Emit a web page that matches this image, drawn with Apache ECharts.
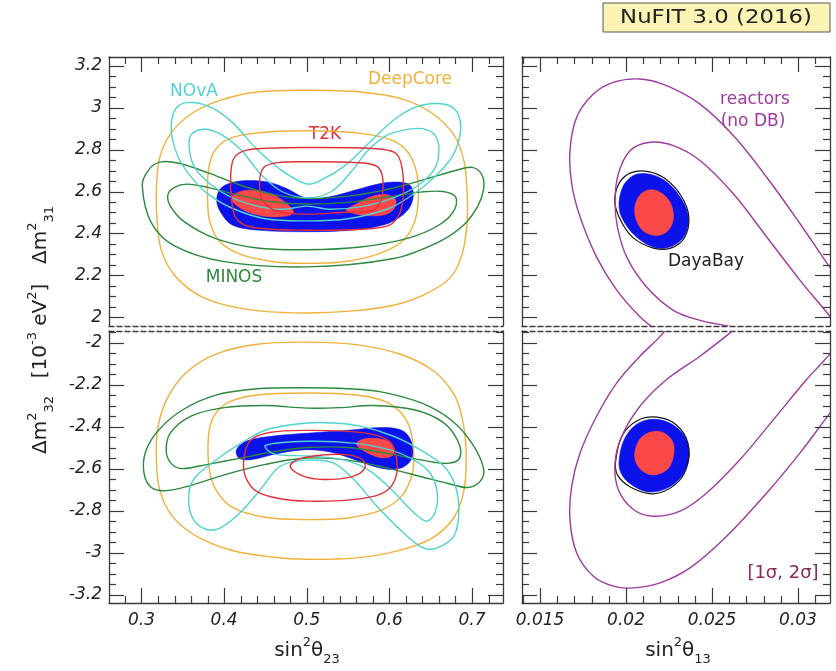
<!DOCTYPE html>
<html>
<head>
<meta charset="utf-8">
<script src="https://cdn.jsdelivr.net/npm/echarts@6/dist/echarts.min.js"></script>
<style>html,body{margin:0;background:#fff}#c{width:836px;height:671px}</style>
</head>
<body>
<div id="c"></div>
<script>
// ---- tick labels ----
const ticks23 = [0.3, 0.4, 0.5, 0.6, 0.7];
const ticks13 = [0.015, 0.02, 0.025, 0.03];
const ticks31 = [2, 2.2, 2.4, 2.6, 2.8, 3, 3.2];
const ticks32 = [-3.2, -3, -2.8, -2.6, -2.4, -2.2, -2];

// ---- sin^2(theta23) vs dm^2_31 (normal ordering) ----
const deepCore31_2s = [[0.500,3.083],[0.440,3.075],[0.395,3.035],[0.360,2.970],[0.335,2.875],[0.322,2.760],[0.318,2.600],[0.319,2.450],[0.324,2.320],[0.338,2.210],[0.363,2.120],[0.395,2.065],[0.443,2.030],[0.500,2.020],[0.556,2.030],[0.605,2.057],[0.645,2.113],[0.674,2.190],[0.688,2.300],[0.694,2.450],[0.694,2.600],[0.690,2.750],[0.678,2.870],[0.653,2.970],[0.617,3.040],[0.565,3.075]];
const deepCore31_1s = [[0.500,2.890],[0.440,2.880],[0.405,2.850],[0.388,2.790],[0.381,2.700],[0.380,2.560],[0.383,2.450],[0.395,2.360],[0.420,2.300],[0.460,2.265],[0.500,2.257],[0.545,2.265],[0.585,2.300],[0.615,2.360],[0.630,2.450],[0.635,2.560],[0.633,2.690],[0.622,2.790],[0.600,2.850],[0.560,2.880]];
const t2k31_2s = [[0.500,2.810],[0.450,2.806],[0.425,2.795],[0.412,2.760],[0.408,2.680],[0.409,2.560],[0.415,2.470],[0.435,2.428],[0.500,2.415],[0.565,2.420],[0.600,2.440],[0.613,2.500],[0.617,2.600],[0.615,2.720],[0.607,2.785],[0.580,2.805]];
const t2k31_1s = [[0.500,2.742],[0.465,2.738],[0.448,2.715],[0.443,2.650],[0.446,2.560],[0.465,2.505],[0.500,2.492],[0.540,2.500],[0.580,2.510],[0.590,2.560],[0.592,2.660],[0.585,2.720],[0.560,2.738]];
const nova31_2s = [[0.500,2.636],[0.470,2.700],[0.440,2.800],[0.410,2.930],[0.385,3.000],[0.362,3.025],[0.345,3.010],[0.337,2.950],[0.337,2.860],[0.345,2.760],[0.360,2.670],[0.380,2.590],[0.410,2.520],[0.450,2.470],[0.500,2.460],[0.550,2.470],[0.600,2.520],[0.630,2.590],[0.655,2.670],[0.675,2.760],[0.685,2.860],[0.685,2.950],[0.675,3.005],[0.655,3.020],[0.630,3.000],[0.605,2.940],[0.575,2.830],[0.545,2.720],[0.520,2.660]];
const nova31_1s = [[0.500,2.570],[0.470,2.600],[0.445,2.680],[0.420,2.800],[0.395,2.875],[0.375,2.897],[0.360,2.870],[0.358,2.800],[0.365,2.710],[0.385,2.630],[0.410,2.570],[0.440,2.530],[0.470,2.515],[0.500,2.530],[0.530,2.515],[0.570,2.530],[0.605,2.570],[0.635,2.630],[0.655,2.710],[0.660,2.800],[0.655,2.870],[0.640,2.900],[0.620,2.895],[0.598,2.870],[0.575,2.800],[0.555,2.700],[0.530,2.600]];
const minos31_2s = [[0.301,2.625],[0.308,2.700],[0.322,2.740],[0.345,2.735],[0.380,2.690],[0.420,2.630],[0.460,2.585],[0.500,2.567],[0.550,2.578],[0.600,2.612],[0.645,2.660],[0.680,2.700],[0.700,2.715],[0.712,2.680],[0.714,2.610],[0.707,2.530],[0.690,2.440],[0.660,2.360],[0.605,2.280],[0.500,2.240],[0.400,2.265],[0.340,2.340],[0.312,2.450]];
const minos31_1s = [[0.332,2.585],[0.340,2.620],[0.355,2.635],[0.380,2.620],[0.420,2.580],[0.460,2.550],[0.500,2.540],[0.550,2.548],[0.600,2.575],[0.640,2.598],[0.665,2.600],[0.680,2.575],[0.679,2.515],[0.662,2.445],[0.625,2.380],[0.565,2.335],[0.500,2.322],[0.440,2.330],[0.390,2.375],[0.352,2.455],[0.335,2.530]];
const global31_3s = [[0.391,2.560],[0.396,2.615],[0.410,2.643],[0.432,2.652],[0.455,2.643],[0.475,2.615],[0.500,2.568],[0.528,2.575],[0.560,2.608],[0.588,2.637],[0.610,2.645],[0.625,2.630],[0.629,2.580],[0.622,2.510],[0.600,2.450],[0.560,2.418],[0.500,2.408],[0.440,2.416],[0.410,2.440],[0.396,2.500]];
const global31_1sA = [[0.409,2.573],[0.418,2.598],[0.432,2.606],[0.452,2.595],[0.470,2.560],[0.484,2.505],[0.478,2.485],[0.455,2.480],[0.430,2.500],[0.413,2.540]];
const global31_1sB = [[0.548,2.512],[0.560,2.540],[0.578,2.575],[0.595,2.585],[0.607,2.565],[0.606,2.520],[0.595,2.490],[0.575,2.485],[0.557,2.495]];

// ---- sin^2(theta23) vs dm^2_32 (inverted ordering) ----
const deepCore32_2s = [[0.500,-1.998],[0.440,-2.008],[0.390,-2.055],[0.355,-2.140],[0.332,-2.260],[0.320,-2.400],[0.318,-2.550],[0.322,-2.700],[0.338,-2.830],[0.368,-2.925],[0.410,-2.990],[0.460,-3.022],[0.500,-3.032],[0.560,-3.025],[0.610,-2.992],[0.650,-2.935],[0.677,-2.840],[0.690,-2.710],[0.693,-2.550],[0.690,-2.400],[0.680,-2.260],[0.655,-2.140],[0.615,-2.058],[0.560,-2.010]];
const deepCore32_1s = [[0.500,-2.240],[0.440,-2.250],[0.405,-2.285],[0.387,-2.355],[0.381,-2.450],[0.382,-2.600],[0.390,-2.700],[0.410,-2.785],[0.450,-2.832],[0.500,-2.843],[0.550,-2.835],[0.590,-2.798],[0.615,-2.730],[0.628,-2.620],[0.629,-2.500],[0.622,-2.380],[0.600,-2.290],[0.560,-2.250]];
const t2k32_2s = [[0.500,-2.418],[0.455,-2.428],[0.432,-2.465],[0.424,-2.550],[0.426,-2.640],[0.440,-2.710],[0.470,-2.745],[0.500,-2.755],[0.550,-2.750],[0.590,-2.720],[0.606,-2.660],[0.609,-2.560],[0.600,-2.470],[0.570,-2.430]];
const t2k32_1s = [[0.480,-2.590],[0.490,-2.555],[0.520,-2.535],[0.550,-2.535],[0.568,-2.560],[0.570,-2.600],[0.555,-2.638],[0.520,-2.652],[0.495,-2.635]];
const nova32_2s = [[0.500,-2.383],[0.452,-2.414],[0.421,-2.478],[0.391,-2.557],[0.363,-2.652],[0.357,-2.748],[0.363,-2.843],[0.379,-2.890],[0.395,-2.883],[0.419,-2.811],[0.444,-2.700],[0.468,-2.589],[0.500,-2.560],[0.532,-2.573],[0.557,-2.652],[0.585,-2.779],[0.617,-2.906],[0.641,-2.978],[0.658,-2.978],[0.678,-2.922],[0.684,-2.811],[0.680,-2.684],[0.666,-2.589],[0.637,-2.510],[0.605,-2.446],[0.565,-2.398],[0.532,-2.383]];
const nova32_1s = [[0.450,-2.490],[0.500,-2.470],[0.560,-2.480],[0.600,-2.510],[0.629,-2.557],[0.649,-2.620],[0.658,-2.716],[0.655,-2.811],[0.645,-2.851],[0.627,-2.800],[0.600,-2.690],[0.572,-2.600],[0.540,-2.555],[0.500,-2.540],[0.460,-2.530]];
const minos32_2s = [[0.500,-2.215],[0.440,-2.220],[0.390,-2.250],[0.350,-2.320],[0.320,-2.420],[0.305,-2.520],[0.303,-2.620],[0.312,-2.690],[0.330,-2.705],[0.360,-2.680],[0.400,-2.630],[0.450,-2.580],[0.500,-2.550],[0.550,-2.560],[0.600,-2.600],[0.640,-2.640],[0.670,-2.670],[0.695,-2.690],[0.710,-2.660],[0.714,-2.600],[0.700,-2.480],[0.675,-2.370],[0.640,-2.290],[0.590,-2.235],[0.550,-2.220]];
const minos32_1s = [[0.500,-2.312],[0.450,-2.300],[0.400,-2.310],[0.360,-2.350],[0.335,-2.430],[0.330,-2.520],[0.337,-2.580],[0.350,-2.600],[0.380,-2.580],[0.420,-2.550],[0.460,-2.520],[0.500,-2.500],[0.550,-2.500],[0.600,-2.530],[0.640,-2.560],[0.670,-2.575],[0.685,-2.550],[0.683,-2.470],[0.665,-2.380],[0.630,-2.320],[0.580,-2.300],[0.540,-2.310]];
const global32_3s = [[0.415,-2.510],[0.428,-2.468],[0.460,-2.445],[0.500,-2.432],[0.550,-2.418],[0.595,-2.405],[0.618,-2.425],[0.628,-2.490],[0.626,-2.560],[0.612,-2.600],[0.590,-2.598],[0.560,-2.560],[0.530,-2.522],[0.500,-2.510],[0.465,-2.528],[0.432,-2.558],[0.418,-2.550]];
const global32_1s = [[0.560,-2.485],[0.566,-2.463],[0.582,-2.456],[0.598,-2.470],[0.606,-2.510],[0.603,-2.540],[0.590,-2.548],[0.572,-2.522]];

// ---- sin^2(theta13) panels ----
const reactors31_2s = [[0.0322,2.200],[0.03157,2.271],[0.03012,2.446],[0.02818,2.668],[0.02624,2.867],[0.02430,3.017],[0.02236,3.105],[0.02081,3.137],[0.01926,3.121],[0.01810,3.065],[0.01713,2.954],[0.01674,2.795],[0.01684,2.637],[0.01733,2.478],[0.01829,2.287],[0.01946,2.129],[0.02081,2.002],[0.02198,1.922],[0.0225,1.880]];
const reactors31_1s = [[0.0322,1.970],[0.03157,2.033],[0.03012,2.176],[0.02818,2.383],[0.02624,2.589],[0.02430,2.748],[0.02275,2.819],[0.02140,2.835],[0.02023,2.795],[0.01955,2.684],[0.01936,2.557],[0.01950,2.430],[0.02004,2.287],[0.02120,2.144],[0.02275,2.033],[0.02430,1.985],[0.02605,1.955],[0.0270,1.930]];
const dayaBay31 = [[0.01935,2.550],[0.0196,2.640],[0.0203,2.690],[0.0213,2.695],[0.0223,2.660],[0.0232,2.580],[0.02365,2.480],[0.0234,2.380],[0.0226,2.330],[0.0216,2.330],[0.0204,2.380],[0.0197,2.460]];
const global31_13_2s = [[0.0196,2.520],[0.0198,2.620],[0.0204,2.675],[0.0212,2.685],[0.0222,2.655],[0.0231,2.580],[0.02362,2.480],[0.0234,2.390],[0.0227,2.340],[0.0218,2.330],[0.0208,2.370],[0.0200,2.440]];
const global31_13_1s = [[0.0205,2.500],[0.0207,2.570],[0.0212,2.605],[0.0219,2.600],[0.02255,2.550],[0.02275,2.470],[0.0224,2.410],[0.0217,2.390],[0.0209,2.420]];

const reactors32_2s = [[0.0225,-1.900],[0.02217,-1.954],[0.02081,-2.065],[0.01946,-2.192],[0.01829,-2.351],[0.01733,-2.525],[0.01684,-2.684],[0.01674,-2.843],[0.01713,-3.002],[0.01810,-3.113],[0.01926,-3.160],[0.02043,-3.168],[0.02198,-3.144],[0.02372,-3.073],[0.02585,-2.922],[0.02818,-2.716],[0.03012,-2.525],[0.03157,-2.367],[0.0322,-2.300]];
const reactors32_1s = [[0.0265,-1.920],[0.02605,-1.954],[0.02430,-2.065],[0.02236,-2.176],[0.02081,-2.303],[0.01975,-2.446],[0.01936,-2.573],[0.01955,-2.700],[0.02043,-2.795],[0.02159,-2.827],[0.02314,-2.803],[0.02469,-2.716],[0.02663,-2.557],[0.02857,-2.367],[0.03050,-2.176],[0.03157,-2.081],[0.0322,-2.020]];
const dayaBay32 = [[0.0194,-2.560],[0.0198,-2.440],[0.0207,-2.370],[0.0218,-2.355],[0.0229,-2.390],[0.0236,-2.480],[0.0235,-2.600],[0.0228,-2.680],[0.0216,-2.720],[0.0203,-2.690],[0.0195,-2.630]];
const global32_13_2s = [[0.0196,-2.560],[0.0199,-2.460],[0.0206,-2.390],[0.0216,-2.365],[0.0227,-2.390],[0.0235,-2.460],[0.02365,-2.560],[0.0231,-2.650],[0.0222,-2.700],[0.0212,-2.710],[0.0202,-2.670],[0.0197,-2.620]];
const global32_13_1s = [[0.0205,-2.540],[0.0208,-2.460],[0.0215,-2.425],[0.0222,-2.430],[0.02275,-2.480],[0.0227,-2.560],[0.0223,-2.610],[0.0215,-2.630],[0.0208,-2.600]];

// ---- styling ----
const FRAME = '#3a3a3a';
const C_DEEPCORE = '#f2b03a', C_NOVA = '#4fd2d2', C_T2K = '#df3038', C_MINOS = '#2b8a3c';
const C_BLUE = '#0c12ea', C_RED = '#fb4848', C_REACT = '#a03aa0', C_DB = '#151515';
const FONT = '"DejaVu Sans", "Liberation Sans", sans-serif';

function minorTicks(lo, hi, step, majors) {
  const out = [];
  const n0 = Math.ceil(lo / step - 1e-9), n1 = Math.floor(hi / step + 1e-9);
  for (let n = n0; n <= n1; n++) {
    const v = +(n * step).toFixed(6);
    if (!majors.some(m => Math.abs(m - v) < step / 10)) out.push(v);
  }
  return out;
}

const panels = [
  { grid: {left: 109, top: 57, width: 394, height: 269}, x: [0.2607, 0.7375], y: [1.958, 3.242], xMaj: ticks23, xStep: 0.02, yMaj: ticks31, upper: true, left: true },
  { grid: {left: 109, top: 331, width: 394, height: 272}, x: [0.2607, 0.7375], y: [-3.24, -1.945], xMaj: ticks23, xStep: 0.02, yMaj: ticks32, upper: false, left: true },
  { grid: {left: 522, top: 57, width: 308, height: 269}, x: [0.01395, 0.03186], y: [1.958, 3.242], xMaj: ticks13, xStep: 0.001, yMaj: ticks31, upper: true, left: false },
  { grid: {left: 522, top: 331, width: 308, height: 272}, x: [0.01395, 0.03186], y: [-3.24, -1.945], xMaj: ticks13, xStep: 0.001, yMaj: ticks32, upper: false, left: false }
];

const grids = [], xAxes = [], yAxes = [], axisRef = [];
const labelFont = { fontFamily: FONT, fontStyle: 'italic', fontSize: 17, color: '#222',
  formatter: v => String(+(+v).toFixed(4)) };

function axis(gi, pos, range, lineType, labels) {
  return {
    type: 'value', gridIndex: gi, position: pos, min: range[0], max: range[1],
    axisLine: { show: true, onZero: false,
      lineStyle: { color: FRAME, width: 1.3, type: lineType === 'dashed' ? [5, 3] : 'solid' } },
    axisTick: { show: false },
    axisLabel: Object.assign({ show: !!labels, customValues: labels || [], margin: pos === 'left' ? 7 : 9 }, labelFont),
    splitLine: { show: false }
  };
}

panels.forEach((p, gi) => {
  grids.push(Object.assign({ containLabel: false }, p.grid));
  const ref = { x: xAxes.length, y: yAxes.length };
  xAxes.push(axis(gi, 'bottom', p.x, p.upper ? 'dashed' : 'solid', p.upper ? null : p.xMaj));
  xAxes.push(axis(gi, 'top', p.x, p.upper ? 'solid' : 'dashed', null));
  yAxes.push(axis(gi, 'left', p.y, 'solid', p.left ? p.yMaj : null));
  yAxes.push(axis(gi, 'right', p.y, 'solid', null));
  axisRef.push(ref);
});

// Inward tick marks along the solid frame edges, placed through each panel's scales.
// Item: [value, length, edge] with edge 0 = bottom, 1 = top, 2 = left, 3 = right.
function tickSeries(gi) {
  const p = panels[gi];
  const items = [];
  const xEdge = p.upper ? 1 : 0;
  p.xMaj.forEach(v => items.push([v, 15, xEdge]));
  minorTicks(p.x[0], p.x[1], p.xStep, p.xMaj).forEach(v => items.push([v, 7, xEdge]));
  p.yMaj.forEach(v => { items.push([v, 15, 2]); items.push([v, 15, 3]); });
  minorTicks(p.y[0], p.y[1], 0.05, p.yMaj).forEach(v => { items.push([v, 7, 2]); items.push([v, 7, 3]); });
  return {
    type: 'custom', xAxisIndex: axisRef[gi].x, yAxisIndex: axisRef[gi].y,
    clip: false, silent: true, animation: false, z: 5, data: items,
    renderItem(params, api) {
      const v = api.value(0), len = api.value(1), edge = api.value(2);
      const cs = params.coordSys;
      let shape;
      if (edge < 2) {
        const x = Math.round(api.coord([v, p.y[0]])[0]) + 0.5;
        const y = edge === 0 ? cs.y + cs.height : cs.y;
        shape = { x1: x, y1: y, x2: x, y2: edge === 0 ? y - len : y + len };
      } else {
        const y = Math.round(api.coord([p.x[0], v])[1]) + 0.5;
        const x = edge === 2 ? cs.x : cs.x + cs.width;
        shape = { x1: x, y1: y, x2: edge === 2 ? x + len : x - len, y2: y };
      }
      return { type: 'line', shape, style: { stroke: FRAME, lineWidth: 1.2 } };
    }
  };
}

function shapeSeries(gi, pts, style, kind) {
  return {
    type: 'custom', xAxisIndex: axisRef[gi].x, yAxisIndex: axisRef[gi].y,
    clip: true, silent: true, animation: false, data: pts,
    renderItem(params, api) {
      if (params.dataIndex !== 0) return null;
      const points = pts.map(pt => api.coord(pt));
      return { type: kind, shape: { points, smooth: 0.35 }, style };
    }
  };
}
const fill = (gi, pts, color) => shapeSeries(gi, pts, { fill: color, stroke: color, lineWidth: 0.6 }, 'polygon');
const ring = (gi, pts, color, w) => shapeSeries(gi, pts, { fill: 'none', stroke: color, lineWidth: w || 1.4 }, 'polygon');
const open = (gi, pts, color) => shapeSeries(gi, pts, { fill: 'none', stroke: color, lineWidth: 1.4 }, 'polyline');

const series = [
  fill(0, global31_3s, C_BLUE), fill(0, global31_1sA, C_RED), fill(0, global31_1sB, C_RED),
  ring(0, deepCore31_2s, C_DEEPCORE), ring(0, deepCore31_1s, C_DEEPCORE),
  ring(0, minos31_2s, C_MINOS), ring(0, minos31_1s, C_MINOS),
  ring(0, nova31_2s, C_NOVA), ring(0, nova31_1s, C_NOVA),
  ring(0, t2k31_2s, C_T2K), ring(0, t2k31_1s, C_T2K),

  fill(1, global32_3s, C_BLUE), fill(1, global32_1s, C_RED),
  ring(1, deepCore32_2s, C_DEEPCORE), ring(1, deepCore32_1s, C_DEEPCORE),
  ring(1, minos32_2s, C_MINOS), ring(1, minos32_1s, C_MINOS),
  ring(1, nova32_2s, C_NOVA), ring(1, nova32_1s, C_NOVA),
  ring(1, t2k32_2s, C_T2K), ring(1, t2k32_1s, C_T2K),

  fill(2, global31_13_2s, C_BLUE), fill(2, global31_13_1s, C_RED),
  ring(2, dayaBay31, C_DB, 1.2),
  open(2, reactors31_2s, C_REACT), open(2, reactors31_1s, C_REACT),

  fill(3, global32_13_2s, C_BLUE), fill(3, global32_13_1s, C_RED),
  ring(3, dayaBay32, C_DB, 1.2),
  open(3, reactors32_2s, C_REACT), open(3, reactors32_1s, C_REACT),

  tickSeries(0), tickSeries(1), tickSeries(2), tickSeries(3)
];

const rich = {
  b: { fontFamily: FONT, fontSize: 20, lineHeight: 30, verticalAlign: 'middle', fill: '#222' },
  sup: { fontFamily: FONT, fontSize: 13, lineHeight: 30, verticalAlign: 'top', fill: '#222' },
  sub: { fontFamily: FONT, fontSize: 13, lineHeight: 30, verticalAlign: 'bottom', fill: '#222' }
};
function tag(text, x, y, color, size, extra) {
  return Object.assign({ type: 'text', x, y, silent: true,
    style: { text, fill: color, font: size + 'px ' + FONT, align: 'center', verticalAlign: 'middle' } }, extra || {});
}
function richText(text, x, y, rotation) {
  return { type: 'text', x, y, rotation: rotation || 0, silent: true,
    style: { text, rich, font: '20px ' + FONT, fill: '#222', align: 'center', verticalAlign: 'middle' } };
}

const graphic = [
  { type: 'rect', shape: { x: 603, y: 3, width: 227, height: 29 }, style: { fill: '#fcf4b4', stroke: '#555', lineWidth: 1 } },
  tag('NuFIT 3.0 (2016)', 716, 18, '#222', 19, { scaleX: 1.2 }),
  tag('NOvA', 194, 92, C_NOVA, 17),
  tag('DeepCore', 410, 80, C_DEEPCORE, 17),
  tag('T2K', 325, 135, C_T2K, 17),
  tag('MINOS', 234, 278, C_MINOS, 17),
  tag('reactors', 755, 100, C_REACT, 17),
  tag('(no DB)', 753, 122, C_REACT, 17),
  tag('DayaBay', 706, 262, '#222', 17),
  tag('[1σ, 2σ]', 783, 573, '#8a2a5a', 18),
  richText('{b|sin}{sup|2}{b|θ}{sub|23}', 307, 651),
  richText('{b|sin}{sup|2}{b|θ}{sub|13}', 678, 651),
  richText('{b|Δm}{sup|2}{sub|31}', 41, 235, Math.PI / 2),
  richText('{b|[10}{sup|-3}{b| eV}{sup|2}{b|]}', 41, 331, Math.PI / 2),
  richText('{b|Δm}{sup|2}{sub|32}', 41, 425, Math.PI / 2)
];

const chart = echarts.init(document.getElementById('c'), null, { renderer: 'canvas' });
chart.setOption({
  animation: false,
  backgroundColor: '#fff',
  grid: grids,
  xAxis: xAxes,
  yAxis: yAxes,
  series,
  graphic
});
</script>
</body>
</html>
